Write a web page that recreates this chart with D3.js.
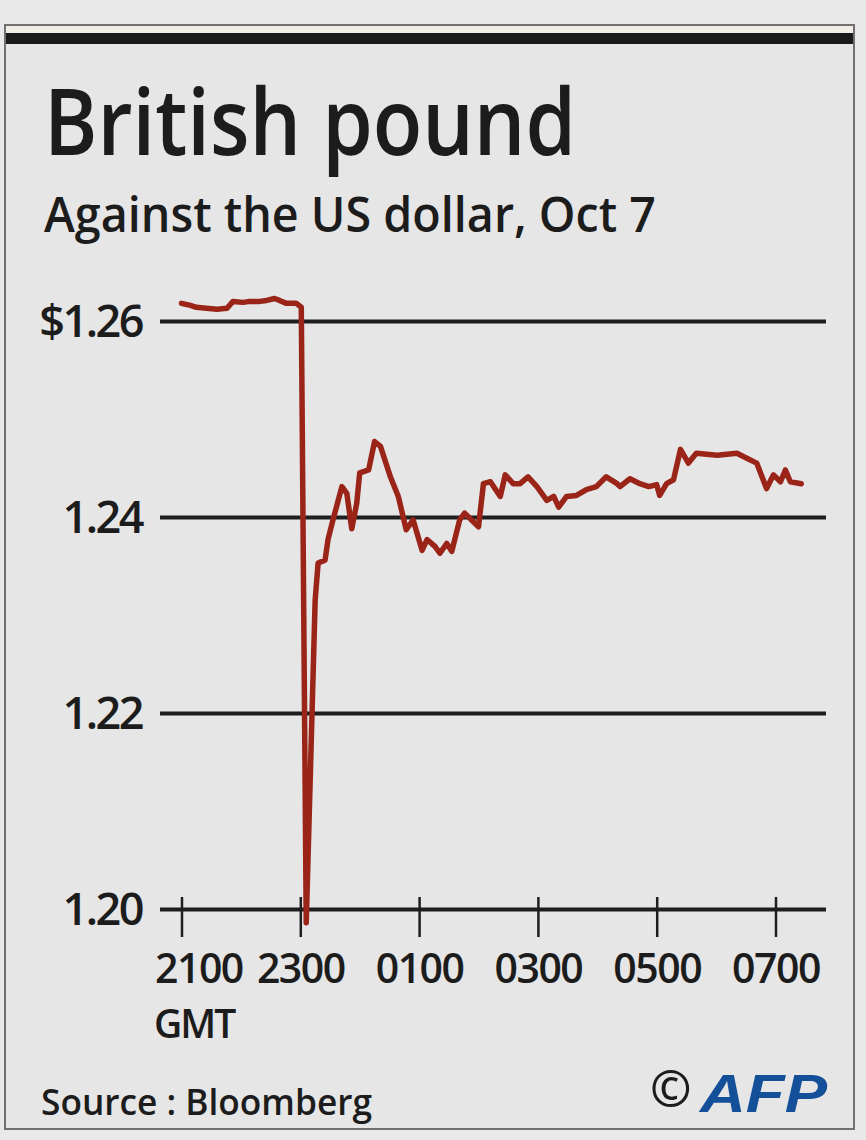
<!DOCTYPE html>
<html><head><meta charset="utf-8">
<script src="https://cdn.jsdelivr.net/npm/d3@7"></script>
<style>body{margin:0;background:#e8e8e8;} svg{display:block}</style>
</head><body>
<svg id="c" width="866" height="1140"></svg>
<script>
// GMT times (Oct 6 21:00 -> Oct 7 07:26) and GBP/USD rate
const times = ["21:00","21:09","21:15","21:25","21:36","21:46","21:52","22:02","22:09","22:19","22:26","22:34","22:39","22:46","22:56","23:01",
  "23:06","23:15","23:18","23:25","23:28","23:33","23:42","23:47","23:52","23:57","00:00","00:09","00:15","00:21","00:31","00:39","00:47","00:54",
  "01:03","01:08","01:16","01:21","01:28","01:33","01:41","01:46","01:53","02:00","02:05","02:12","02:22","02:27","02:35","02:42","02:50","02:59",
  "03:09","03:16","03:21","03:29","03:39","03:49","03:59","04:09","04:20","04:23","04:33","04:43","04:52","05:00","05:03","05:10","05:17","05:24",
  "05:32","05:40","06:01","06:21","06:31","06:41","06:51","06:58","07:05","07:10","07:15","07:26"];
const rates = [1.2618,1.2616,1.2614,1.2613,1.2612,1.2613,1.2620,1.2619,1.2620,1.2620,1.2621,1.2623,1.2621,1.2618,1.2618,1.2614,
  1.1986,1.2315,1.2353,1.2356,1.2377,1.2397,1.2431,1.2424,1.2388,1.2414,1.2445,1.2448,1.2477,1.2472,1.2441,1.2421,1.2387,1.2397,
  1.2366,1.2377,1.2370,1.2363,1.2373,1.2365,1.2397,1.2404,1.2397,1.2390,1.2434,1.2436,1.2421,1.2443,1.2434,1.2434,1.2441,1.2431,
  1.2417,1.2421,1.2410,1.2421,1.2422,1.2428,1.2431,1.2441,1.2434,1.2431,1.2439,1.2434,1.2431,1.2433,1.2422,1.2434,1.2438,1.2469,
  1.2455,1.2465,1.2463,1.2465,1.2460,1.2455,1.2429,1.2443,1.2436,1.2448,1.2436,1.2434];
const tickHours = [0,2,4,6,8,10];
const tickLabels = ["2100","2300","0100","0300","0500","0700"];
const gridValues = [1.26,1.24,1.22,1.20];
const gridLabels = ["$1.26","1.24","1.22","1.20"];
const titleText = "British pound";
const subtitleText = "Against the US dollar, Oct 7";
const unitText = "GMT";
const sourceText = "Source : Bloomberg";

const toHours = t => { const [H,M] = t.split(":").map(Number); let h = H + M/60 - 21; if (h < 0) h += 24; return h; };
const data = times.map((t,i) => ({h: toHours(t), v: rates[i]}));

const svg = d3.select("#c");
const FONT = "'Open Sans', 'Noto Sans', sans-serif";

// frame
svg.append("rect").attr("x",0).attr("y",0).attr("width",866).attr("height",1140).attr("fill","#e9e9e9");
svg.append("rect").attr("x",5).attr("y",25).attr("width",849).attr("height",1104)
  .attr("fill","#e6e6e6").attr("stroke","#707070").attr("stroke-width",2);
svg.append("rect").attr("x",6).attr("y",26).attr("width",847).attr("height",7).attr("fill","#f1eee8");
svg.append("rect").attr("x",6).attr("y",33).attr("width",847).attr("height",11).attr("fill","#1a1a1a");

// titles
svg.append("text").attr("x",44).attr("y",155).text(titleText)
  .attr("font-family",FONT).attr("font-weight",600).attr("font-size",92).attr("fill","#1c1c1c")
  .attr("textLength",532).attr("lengthAdjust","spacingAndGlyphs");
svg.append("text").attr("x",44).attr("y",232).text(subtitleText)
  .attr("font-family",FONT).attr("font-weight",600).attr("font-size",48).attr("fill","#1c1c1c")
  .attr("textLength",612).attr("lengthAdjust","spacingAndGlyphs");

// scales
const x = d3.scaleLinear().domain([0,10]).range([181.5,775.5]);
const y = d3.scaleLinear().domain([1.20,1.26]).range([909,321]);

// y axis / gridlines
const yAxis = svg.append("g").attr("transform","translate(160,0)")
  .call(d3.axisLeft(y).tickValues(gridValues).tickFormat((d,i)=>gridLabels[i]).tickSize(-666).tickPadding(18));
yAxis.select(".domain").remove();
yAxis.selectAll(".tick line").attr("stroke","#1e1e1e").attr("stroke-width",4);
yAxis.selectAll(".tick text").attr("font-family",FONT).attr("font-weight",600).attr("font-size",45)
  .attr("fill","#1c1c1c").attr("letter-spacing",-2.5).attr("dy","0.34em");

// x axis ticks
const xAxis = svg.append("g").attr("transform","translate(0,909)")
  .call(d3.axisBottom(x).tickValues(tickHours).tickFormat((d,i)=>tickLabels[i]).tickSize(28));
xAxis.select(".domain").remove();
xAxis.selectAll(".tick line").attr("y1",-12).attr("stroke","#1e1e1e").attr("stroke-width",2.5);
xAxis.selectAll(".tick text").attr("y",74).attr("dy",0).attr("font-family",FONT).attr("font-weight",600)
  .attr("font-size",41).attr("fill","#1c1c1c").attr("letter-spacing",-1.5);
xAxis.selectAll(".tick text").filter((d,i)=>i===0).attr("text-anchor","start").attr("x",-27);
svg.append("text").attr("x",154).attr("y",1038).text(unitText)
  .attr("font-family",FONT).attr("font-weight",600).attr("font-size",39).attr("fill","#1c1c1c").attr("letter-spacing",-2);

// line
svg.append("path").datum(data)
  .attr("d", d3.line().x(d=>x(d.h)).y(d=>y(d.v)))
  .attr("fill","none").attr("stroke","#9a2418").attr("stroke-width",5.5)
  .attr("stroke-linejoin","round").attr("stroke-linecap","round");

// source & logo
svg.append("text").attr("x",41).attr("y",1115).text(sourceText)
  .attr("font-family",FONT).attr("font-weight",600).attr("font-size",36).attr("fill","#1c1c1c")
  .attr("textLength",331).attr("lengthAdjust","spacingAndGlyphs");
svg.append("text").attr("x",650).attr("y",1107).text("©")
  .attr("font-family",FONT).attr("font-weight",600).attr("font-size",50).attr("fill","#1c1c1c");
svg.append("text").attr("x",700).attr("y",1112).text("AFP")
  .attr("font-family","'Liberation Sans', Arial, sans-serif").attr("font-weight",900).attr("font-style","italic")
  .attr("font-size",54).attr("fill","#14509a").attr("textLength",127).attr("lengthAdjust","spacingAndGlyphs");
</script>
</body></html>
